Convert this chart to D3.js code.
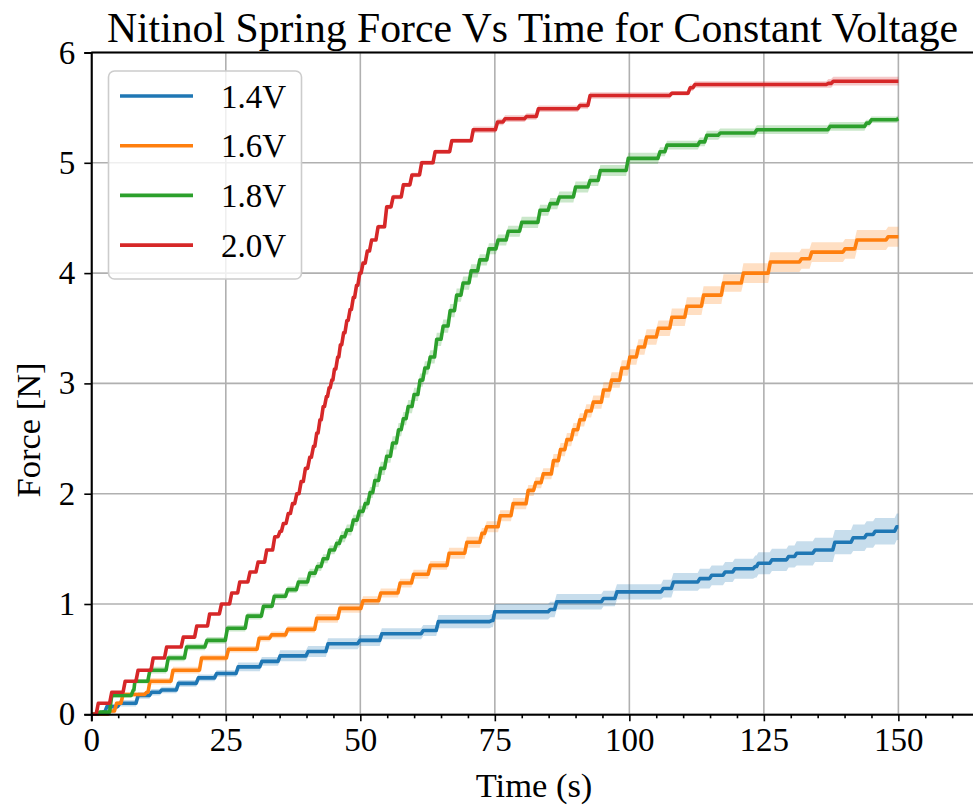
<!DOCTYPE html>
<html>
<head>
<meta charset="utf-8">
<script src="https://cdn.jsdelivr.net/npm/d3@7"></script>
<style>
  body { margin: 0; background: #fff; }
  text { font-family: "Liberation Serif", "Times New Roman", serif; fill: #000; }
</style>
</head>
<body>
<svg id="chart" width="973" height="806"></svg>
<script>
// step data: time (s), mean force (N), half width of the shaded band (N)
const labels = ["1.4V", "1.6V", "1.8V", "2.0V"];
const colors = ["#1f77b4", "#ff7f0e", "#2ca02c", "#d62728"];
const xTicks = [0, 25, 50, 75, 100, 125, 150];
const yTicks = [0, 1, 2, 3, 4, 5, 6];

const t14 = [0, 2.2, 2.9, 5.3, 8.7, 11.2, 13.1, 16.2, 19.9, 23.3, 27.3, 31.7, 35.1, 40.3, 44.0, 49.9, 54.0, 61.7, 64.5, 74.4, 75.0, 85.3, 86.5, 95.2, 97.7, 106.3, 108.2, 113.1, 115.3, 117.8, 119.6, 123.4, 124.0, 126.5, 129.6, 131.1, 134.5, 138.2, 141.6, 144.1, 145.7, 149.7, 150];
const f14 = [0, 0.02, 0.07, 0.10, 0.17, 0.20, 0.22, 0.28, 0.33, 0.37, 0.43, 0.48, 0.53, 0.57, 0.64, 0.67, 0.73, 0.76, 0.84, 0.85, 0.93, 0.95, 1.02, 1.05, 1.11, 1.14, 1.20, 1.23, 1.26, 1.29, 1.32, 1.34, 1.37, 1.40, 1.43, 1.46, 1.49, 1.56, 1.60, 1.63, 1.66, 1.70, 1.70];
const e14 = [0.01, 0.02, 0.02, 0.03, 0.03, 0.03, 0.03, 0.03, 0.03, 0.03, 0.04, 0.04, 0.05, 0.05, 0.05, 0.05, 0.05, 0.05, 0.06, 0.06, 0.07, 0.07, 0.07, 0.07, 0.07, 0.08, 0.08, 0.09, 0.09, 0.09, 0.09, 0.10, 0.10, 0.10, 0.10, 0.11, 0.11, 0.11, 0.12, 0.12, 0.12, 0.12, 0.12];

const t16 = [0, 3.5, 4.7, 5.9, 10.3, 10.9, 15.2, 20.5, 25.5, 31.2, 33.5, 36.5, 41.9, 46.2, 50.5, 53.8, 57.4, 59.9, 63.0, 66.5, 69.8, 72.6, 73.5, 76.0, 78.4, 81.2, 82.6, 84.0, 85.9, 87.2, 88.4, 89.6, 90.8, 92.0, 93.3, 95.2, 96.7, 98.6, 100.1, 101.7, 103.2, 105.4, 107.9, 110.7, 113.8, 117.5, 121.2, 126.2, 132.0, 133.9, 140.1, 142.3, 148.1, 150];
const f16 = [0, 0.03, 0.10, 0.18, 0.20, 0.30, 0.40, 0.51, 0.59, 0.69, 0.72, 0.77, 0.87, 0.96, 1.03, 1.10, 1.19, 1.27, 1.35, 1.46, 1.56, 1.64, 1.70, 1.80, 1.91, 2.03, 2.10, 2.18, 2.30, 2.40, 2.49, 2.58, 2.67, 2.75, 2.83, 2.94, 3.03, 3.14, 3.24, 3.33, 3.42, 3.50, 3.60, 3.70, 3.80, 3.91, 4.00, 4.10, 4.13, 4.19, 4.22, 4.30, 4.33, 4.33];
const e16 = [0.01, 0.02, 0.02, 0.02, 0.02, 0.03, 0.03, 0.03, 0.03, 0.03, 0.03, 0.03, 0.04, 0.04, 0.04, 0.04, 0.04, 0.04, 0.04, 0.05, 0.05, 0.05, 0.05, 0.05, 0.05, 0.05, 0.05, 0.05, 0.06, 0.06, 0.06, 0.06, 0.06, 0.06, 0.06, 0.07, 0.07, 0.07, 0.07, 0.07, 0.07, 0.07, 0.08, 0.08, 0.08, 0.08, 0.09, 0.09, 0.09, 0.09, 0.09, 0.09, 0.09, 0.09];

const t18 = [0, 1.6, 3.8, 7.8, 8.1, 10.9, 14.3, 17.7, 21.5, 25.3, 29.0, 32.0, 34.0, 36.5, 38.5, 40.6, 42.0, 43.1, 44.3, 45.6, 46.5, 47.5, 48.7, 49.8, 50.9, 51.8, 52.7, 53.8, 54.9, 56.0, 57.1, 58.0, 58.9, 60.0, 61.1, 62.0, 63.0, 64.2, 65.4, 66.7, 67.9, 69.1, 70.6, 72.2, 73.9, 75.6, 77.5, 80.0, 83.4, 85.3, 87.0, 90.0, 92.7, 94.6, 99.8, 105.7, 107.0, 113.1, 114.4, 116.9, 123.7, 137.3, 144.1, 145.0, 150];
const f18 = [0, 0.02, 0.17, 0.22, 0.30, 0.40, 0.51, 0.61, 0.67, 0.78, 0.89, 0.98, 1.07, 1.13, 1.20, 1.28, 1.34, 1.41, 1.49, 1.55, 1.61, 1.67, 1.76, 1.84, 1.91, 2.01, 2.12, 2.23, 2.34, 2.46, 2.58, 2.68, 2.79, 2.90, 3.03, 3.14, 3.24, 3.40, 3.52, 3.66, 3.80, 3.91, 4.02, 4.12, 4.22, 4.30, 4.38, 4.46, 4.57, 4.63, 4.69, 4.78, 4.84, 4.93, 5.04, 5.10, 5.16, 5.19, 5.25, 5.27, 5.30, 5.33, 5.36, 5.39, 5.40];
const e18 = [0.01, 0.02, 0.02, 0.02, 0.02, 0.03, 0.03, 0.03, 0.03, 0.03, 0.03, 0.03, 0.03, 0.03, 0.04, 0.04, 0.04, 0.04, 0.04, 0.04, 0.05, 0.05, 0.05, 0.05, 0.05, 0.05, 0.06, 0.06, 0.06, 0.06, 0.06, 0.06, 0.06, 0.06, 0.06, 0.06, 0.06, 0.06, 0.06, 0.06, 0.06, 0.06, 0.06, 0.05, 0.05, 0.05, 0.05, 0.05, 0.05, 0.05, 0.05, 0.05, 0.05, 0.05, 0.05, 0.04, 0.04, 0.04, 0.04, 0.04, 0.04, 0.04, 0.03, 0.03, 0.03];

const t20 = [0, 1.3, 3.8, 6.3, 8.7, 11.5, 14.0, 17.1, 19.6, 22.0, 24.2, 26.1, 27.6, 29.5, 31.0, 32.6, 34.1, 35.1, 35.7, 36.6, 37.4, 38.2, 39.0, 39.8, 40.6, 41.3, 41.9, 42.5, 43.1, 43.7, 44.2, 44.7, 45.2, 45.8, 46.3, 46.9, 47.5, 48.1, 48.7, 49.3, 49.9, 50.5, 51.3, 52.1, 53.3, 54.9, 56.1, 58.0, 59.6, 61.4, 63.9, 67.0, 71.0, 75.5, 76.9, 80.9, 83.1, 90.8, 92.7, 107.9, 111.3, 112.2, 137.0, 137.9, 150];
const f20 = [0, 0.10, 0.20, 0.30, 0.40, 0.51, 0.61, 0.70, 0.80, 0.91, 1.00, 1.10, 1.20, 1.29, 1.38, 1.49, 1.61, 1.66, 1.73, 1.82, 1.91, 2.00, 2.11, 2.23, 2.33, 2.43, 2.55, 2.67, 2.79, 2.88, 2.96, 3.03, 3.13, 3.24, 3.35, 3.46, 3.57, 3.67, 3.78, 3.89, 4.00, 4.09, 4.20, 4.30, 4.42, 4.60, 4.69, 4.80, 4.89, 5.00, 5.10, 5.20, 5.30, 5.37, 5.40, 5.42, 5.49, 5.52, 5.61, 5.63, 5.68, 5.71, 5.72, 5.74, 5.74];
const e20 = [0.01, 0.01, 0.01, 0.01, 0.01, 0.01, 0.01, 0.01, 0.01, 0.01, 0.01, 0.01, 0.01, 0.01, 0.01, 0.01, 0.01, 0.01, 0.01, 0.01, 0.01, 0.01, 0.01, 0.01, 0.01, 0.01, 0.01, 0.01, 0.01, 0.01, 0.01, 0.01, 0.01, 0.01, 0.01, 0.01, 0.01, 0.01, 0.01, 0.01, 0.01, 0.01, 0.01, 0.01, 0.02, 0.02, 0.02, 0.02, 0.02, 0.02, 0.02, 0.02, 0.03, 0.03, 0.03, 0.03, 0.03, 0.03, 0.03, 0.02, 0.03, 0.03, 0.04, 0.04, 0.04];

const times = [t14, t16, t18, t20];
const forces = [f14, f16, f18, f20];
const errs = [e14, e16, e18, e20];

// each jump is drawn as a short slanted riser, like the sampled original
function withRisers(pts) {
    const out = [pts[0]];
    for (let i = 1; i < pts.length; i++) {
        const prev = pts[i - 1];
        const r = Math.min(0.4, (pts[i].t - prev.t) * 0.6);
        out.push({ t: pts[i].t - r, f: prev.f, e: prev.e });
        out.push(pts[i]);
    }
    return out;
}

const series = labels.map((name, i) => ({
    name: name,
    color: colors[i],
    values: withRisers(times[i].map((t, j) => ({ t: t, f: forces[i][j], e: errs[i][j] })))
}));

const svg = d3.select("#chart");

// axes box in pixels
const boxL = 91.3, boxR = 973.7, boxT = 52.5, boxB = 714.3;

const x = d3.scaleLinear().domain([0, 164]).range([boxL, boxR]);
const y = d3.scaleLinear().domain([0, 6]).range([boxB, boxT]);

// grid lines
const grid = svg.append("g").attr("class", "grid");
grid.selectAll("line.gx")
    .data(xTicks)
    .enter()
    .append("line")
    .attr("x1", d => x(d)).attr("x2", d => x(d))
    .attr("y1", boxT).attr("y2", boxB)
    .attr("stroke", "#b0b0b0")
    .attr("stroke-width", 1.6);
grid.selectAll("line.gy")
    .data(yTicks)
    .enter()
    .append("line")
    .attr("x1", boxL).attr("x2", boxR)
    .attr("y1", d => y(d)).attr("y2", d => y(d))
    .attr("stroke", "#b0b0b0")
    .attr("stroke-width", 1.6);

const plot = svg.append("g");

// shaded bands
const band = d3.area()
    .x(d => x(d.t))
    .y0(d => y(Math.max(0, d.f - d.e)))
    .y1(d => y(d.f + d.e));

plot.selectAll("path.band")
    .data(series)
    .enter()
    .append("path")
    .attr("class", "band")
    .attr("d", d => band(d.values))
    .attr("fill", d => d.color)
    .attr("fill-opacity", 0.25);

// mean lines
const line = d3.line()
    .x(d => x(d.t))
    .y(d => y(d.f));

plot.selectAll("path.mean")
    .data(series)
    .enter()
    .append("path")
    .attr("class", "mean")
    .attr("d", d => line(d.values))
    .attr("fill", "none")
    .attr("stroke", d => d.color)
    .attr("stroke-width", 3.6)
    .attr("stroke-linejoin", "round");

// axes
svg.append("g")
    .attr("transform", `translate(0, ${boxB})`)
    .call(d3.axisBottom(x).tickValues(xTicks).tickSize(7).tickPadding(6).tickFormat(d3.format("d")));

// minor ticks every 5 s
const minor = d3.range(0, 165, 5).filter(v => v % 25 !== 0);
svg.append("g")
    .attr("transform", `translate(0, ${boxB})`)
    .call(d3.axisBottom(x).tickValues(minor).tickSize(4).tickFormat(""))
    .call(g => g.select(".domain").remove());

svg.append("g")
    .attr("transform", `translate(${boxL}, 0)`)
    .call(d3.axisLeft(y).tickValues(yTicks).tickSize(7).tickPadding(9).tickFormat(d3.format("d")));

svg.selectAll(".tick line").attr("stroke", "#000").attr("stroke-width", 1.6);
svg.selectAll(".domain").attr("stroke", "#000").attr("stroke-width", 2);
svg.selectAll(".tick text")
    .style("font-family", "'Liberation Serif', serif")
    .style("font-size", "33px");

// top spine
svg.append("line")
    .attr("x1", boxL).attr("x2", boxR)
    .attr("y1", boxT).attr("y2", boxT)
    .attr("stroke", "#000")
    .attr("stroke-width", 2);

// title and axis labels
svg.append("text")
    .attr("x", (boxL + boxR) / 2)
    .attr("y", 42)
    .attr("text-anchor", "middle")
    .style("font-size", "41.7px")
    .text("Nitinol Spring Force Vs Time for Constant Voltage");

svg.append("text")
    .attr("x", 534)
    .attr("y", 797)
    .attr("text-anchor", "middle")
    .style("font-size", "34.5px")
    .text("Time (s)");

svg.append("text")
    .attr("transform", "translate(40, 430) rotate(-90)")
    .attr("text-anchor", "middle")
    .style("font-size", "34.5px")
    .text("Force [N]");

// legend
const legend = svg.append("g");
legend.append("rect")
    .attr("x", 108.5).attr("y", 71)
    .attr("width", 193).attr("height", 208)
    .attr("rx", 6)
    .attr("fill", "#fff")
    .attr("fill-opacity", 0.8)
    .attr("stroke", "#cccccc")
    .attr("stroke-width", 1.6);

const item = legend.selectAll("g.item")
    .data(series)
    .enter()
    .append("g")
    .attr("transform", (d, i) => `translate(0, ${96 + i * 49.7})`);

item.append("line")
    .attr("x1", 120).attr("x2", 193)
    .attr("stroke", d => d.color)
    .attr("stroke-width", 3.6);

item.append("text")
    .attr("x", 221)
    .attr("y", 11.5)
    .style("font-size", "33px")
    .text(d => d.name);
</script>
</body>
</html>
